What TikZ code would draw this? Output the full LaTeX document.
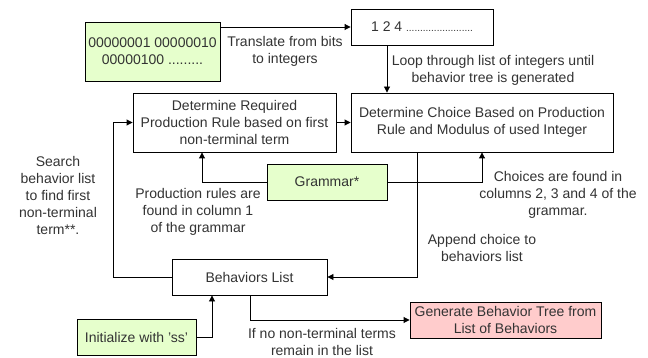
\documentclass[tikz,border=0pt]{standalone}
\usepackage{fontspec}
\setmainfont{Liberation Sans}
\usetikzlibrary{arrows.meta}
\definecolor{txt}{HTML}{333333}
\definecolor{greenfill}{HTML}{E6FFCC}
\definecolor{redfill}{HTML}{FFCCCC}
\tikzset{
  box/.style={draw=black, line width=0.9pt, inner sep=0pt, text=txt, align=center,
    font=\fontsize{14}{17}\selectfont},
  lbl/.style={text=txt, align=center, inner sep=0pt, font=\fontsize{14}{17}\selectfont},
  conn/.style={draw=black, line width=0.9pt, -{Triangle[length=6pt,width=6pt]}},
}
\begin{document}
\begin{tikzpicture}[x=1pt,y=-1pt]
\useasboundingbox (0,0) rectangle (648,358);
\fill[white] (0,0) rectangle (648,358);
% boxes
\node[box, fill=greenfill, minimum width=135pt, minimum height=59pt] (bits) at (152.5,51.5)
  {00000001 00000010\\00000100 .........};
\node[box, minimum width=142pt, minimum height=36pt] (ints) at (422,27)
  {1 2 4 \fontsize{10}{12}\selectfont........................};
\node[box, minimum width=203pt, minimum height=59pt] (req) at (234.5,122.5)
  {Determine Required\\Production Rule based on first\\non-terminal term};
\node[box, minimum width=262pt, minimum height=59pt] (choice) at (482,122.5)
  {Determine Choice Based on Production\\Rule and Modulus of used Integer};
\node[box, fill=greenfill, minimum width=120pt, minimum height=36pt] (gram) at (327,182)
  {Grammar*};
\node[box, minimum width=155pt, minimum height=36pt] (blist) at (249.5,277)
  {Behaviors List};
\node[box, fill=greenfill, minimum width=119pt, minimum height=36pt] (init) at (136.5,337)
  {Initialize with 'ss'};
\node[box, fill=redfill, minimum width=191pt, minimum height=36pt] (gen) at (505.5,320)
  {Generate Behavior Tree from\\List of Behaviors};
% connectors
\coordinate (bitsout) at (220,27);
\draw[conn] (bitsout) -- (ints.west |- bitsout);
\coordinate (loopx) at (387,0);
\draw[conn] (ints.south -| loopx) -- (choice.north -| loopx);
\draw[conn] (req.east) -- (choice.west);
\coordinate (leftx) at (113,0);
\draw[conn] (blist.west) -- (blist.west -| leftx) -- (req.west -| leftx) -- (req.west);
\coordinate (gl) at (202,0);
\draw[conn] (gram.west) -- (gram.west -| gl) -- (req.south -| gl);
\coordinate (gr) at (482,0);
\draw[conn] (gram.east) -- (gram.east -| gr) -- (choice.south -| gr);
\coordinate (ax) at (417,0);
\draw[conn] (choice.south -| ax) -- (blist.east -| ax) -- (blist.east);
\coordinate (ix) at (212,0);
\draw[conn] (init.east) -- (init.east -| ix) -- (blist.south -| ix);
\coordinate (bx) at (250,0);
\draw[conn] (blist.south -| bx) -- (gen.west -| bx) -- (gen.west);
% labels
\node[lbl] (l1) at (285,51.5) {Translate from bits\\to integers};
\node[lbl] (l2) at (493,70) {Loop through list of integers until\\behavior tree is generated};
\node[lbl] (l3) at (58,195) {Search\\behavior list\\to find first\\non-terminal\\term**.};
\node[lbl] (l4) at (198,212) {Production rules are\\found in column 1\\of the grammar};
\node[lbl] (l5) at (558,195) {Choices are found in\\columns 2, 3 and 4 of the\\grammar.};
\node[lbl] (l6) at (482,248) {Append choice to\\behaviors list};
\node[lbl] (l7) at (322,341.5) {If no non-terminal terms\\remain in the list};
\end{tikzpicture}
\end{document}
